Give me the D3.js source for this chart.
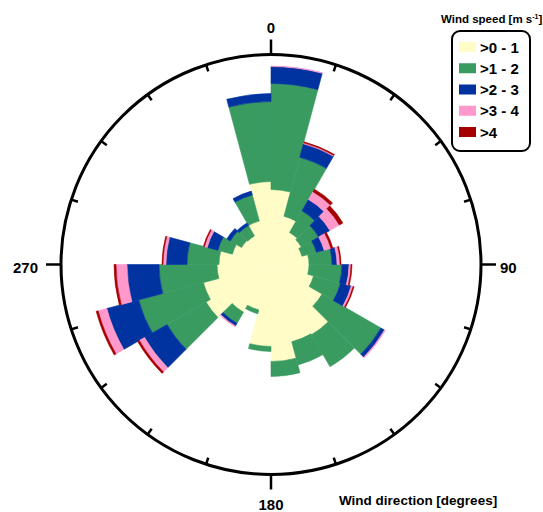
<!DOCTYPE html>
<html>
<head lang="en">
    <meta charset="utf-8">
    <title>Wind rose</title>
    <style type="text/css">
        body { margin: 0; background: #fff; }
        text { font-family: "Liberation Sans", Arial, sans-serif; font-weight: bold; fill: #000; }
    </style>
</head>
<body>
<svg id="rose" width="543" height="512"></svg>

<script src="https://d3js.org/d3.v7.min.js"></script>
<script type="text/javascript">
    // direction bins (start angle, degrees), 15 degree sectors
    var directions = [0, 15, 30, 45, 60, 75, 90, 105, 120, 135, 150, 165,
        180, 195, 210, 225, 240, 255, 270, 285, 300, 315, 330, 345];

    // speed classes
    var speedClasses = [">0 - 1", ">1 - 2", ">2 - 3", ">3 - 4", ">4"];

    // frequency (%) per direction bin, one array per speed class
    var speed0to1 = [7.5, 5.0, 3.7, 3.5, 3.2, 3.8, 3.8, 4.4, 5.9, 8.1, 8.0, 9.7,
        8.2, 4.7, 5.5, 7.5, 7.0, 5.4, 5.2, 4.0, 3.4, 3.3, 4.5, 8.3];
    var speed1to2 = [10.6, 6.1, 2.5, 2.0, 1.5, 2.3, 3.3, 2.8, 6.8, 3.7, 2.4, 1.5,
        0.5, 0.4, 1.3, 4.5, 6.7, 5.8, 3.2, 1.5, 1.3, 1.2, 2.7, 8.0];
    var speed2to3 = [1.7, 1.4, 1.3, 1.3, 0.8, 0.5, 0.7, 1.1, 0.4, 0.0, 0.0, 0.0,
        0.0, 0.0, 0.3, 2.6, 3.3, 3.2, 2.1, 1.1, 0.4, 0.3, 0.4, 0.8];
    var speed3to4 = [0.05, 0.1, 0.9, 1.1, 0.7, 0.3, 0.2, 0.2, 0.1, 0.0, 0.0, 0.0,
        0.0, 0.0, 0.1, 0.6, 0.9, 1.1, 0.3, 0.3, 0.0, 0.0, 0.0, 0.0];
    var speedOver4 = [0.0, 0.1, 0.3, 0.4, 0.2, 0.1, 0.1, 0.1, 0.0, 0.0, 0.0, 0.0,
        0.0, 0.0, 0.0, 0.2, 0.2, 0.2, 0.1, 0.1, 0.0, 0.0, 0.0, 0.0];

    var colors = ["#FFFCC8", "#3A9B61", "#0033A0", "#FF99CC", "#A50000"];

    // compass labels
    var compassTicks = [0, 90, 180, 270];

    var cx = 271, cy = 264.5, R = 210;
    var svg = d3.select("#rose");

    // build rows for d3.stack
    var series = [speed0to1, speed1to2, speed2to3, speed3to4, speedOver4];
    var rows = directions.map(function (d, i) {
        var row = {dir: d};
        speedClasses.forEach(function (k, j) { row[k] = series[j][i]; });
        return row;
    });
    var stacked = d3.stack().keys(speedClasses)(rows);

    var angle = d3.scaleLinear().domain([0, 360]).range([0, 2 * Math.PI]);
    var radius = d3.scaleLinear().domain([0, 21]).range([0, R]);
    var color = d3.scaleOrdinal().domain(speedClasses).range(colors);

    var arc = d3.arc()
        .innerRadius(function (d) { return radius(d[0]); })
        .outerRadius(function (d) { return radius(d[1]); })
        .startAngle(function (d) { return angle(d.data.dir); })
        .endAngle(function (d) { return angle(d.data.dir + 15); });

    var g = svg.append("g").attr("transform", "translate(" + cx + "," + cy + ")");

    // stacked sectors (thin stroke in same colour hides the seams)
    g.selectAll("g.layer")
        .data(stacked)
        .enter().append("g")
        .attr("class", "layer")
        .attr("fill", function (d) { return color(d.key); })
        .attr("stroke", function (d) { return color(d.key); })
        .attr("stroke-width", 0.6)
        .selectAll("path")
        .data(function (d) { return d.filter(function (p) { return p[1] - p[0] > 0; }); })
        .enter().append("path")
        .attr("d", arc);

    // outer circle
    g.append("circle")
        .attr("r", R)
        .attr("fill", "none")
        .attr("stroke", "#000")
        .attr("stroke-width", 3);

    // ticks every 18 degrees: major (compass) outward, minor inward
    var tickAngles = d3.range(0, 360, 18);
    g.selectAll("line.tick")
        .data(tickAngles)
        .enter().append("line")
        .attr("class", "tick")
        .attr("x1", function (d) { return R * Math.sin(angle(d)); })
        .attr("y1", function (d) { return -R * Math.cos(angle(d)); })
        .attr("x2", function (d) {
            var r2 = d % 90 === 0 ? R + 15 : R - 7;
            return r2 * Math.sin(angle(d));
        })
        .attr("y2", function (d) {
            var r2 = d % 90 === 0 ? R + 15 : R - 7;
            return -r2 * Math.cos(angle(d));
        })
        .attr("stroke", "#000")
        .attr("stroke-width", 2.5);

    // compass labels
    var labelPos = {
        0: [0, -232, "middle"],
        90: [229, 8, "start"],
        180: [0, 245, "middle"],
        270: [-233, 8, "end"]
    };
    g.selectAll("text.compass")
        .data(compassTicks)
        .enter().append("text")
        .attr("class", "compass")
        .attr("x", function (d) { return labelPos[d][0]; })
        .attr("y", function (d) { return labelPos[d][1]; })
        .attr("text-anchor", function (d) { return labelPos[d][2]; })
        .style("font-size", "15px")
        .text(function (d) { return d; });

    // axis title
    svg.append("text")
        .attr("x", 339)
        .attr("y", 505)
        .style("font-size", "13.5px")
        .text("Wind direction [degrees]");

    // legend
    var legend = svg.append("g");
    var title = legend.append("text")
        .attr("x", 441)
        .attr("y", 23)
        .style("font-size", "11.5px");
    title.append("tspan").text("Wind speed [m s");
    title.append("tspan").attr("dy", -4).style("font-size", "7px").text("-1");
    title.append("tspan").attr("dy", 4).text("]");

    legend.append("rect")
        .attr("x", 452)
        .attr("y", 31)
        .attr("width", 78)
        .attr("height", 120)
        .attr("rx", 8)
        .attr("fill", "#fff")
        .attr("stroke", "#000")
        .attr("stroke-width", 2);

    var itemY = d3.scalePoint().domain(speedClasses).range([47, 132]);
    var items = legend.selectAll("g.item")
        .data(speedClasses)
        .enter().append("g")
        .attr("class", "item");
    items.append("rect")
        .attr("x", 459)
        .attr("y", function (d) { return itemY(d) - 5; })
        .attr("width", 17)
        .attr("height", 10)
        .attr("fill", function (d) { return color(d); });
    items.append("text")
        .attr("x", 480)
        .attr("y", function (d) { return itemY(d) + 5.5; })
        .style("font-size", "15px")
        .text(function (d) { return d; });
</script>
</body>
</html>
